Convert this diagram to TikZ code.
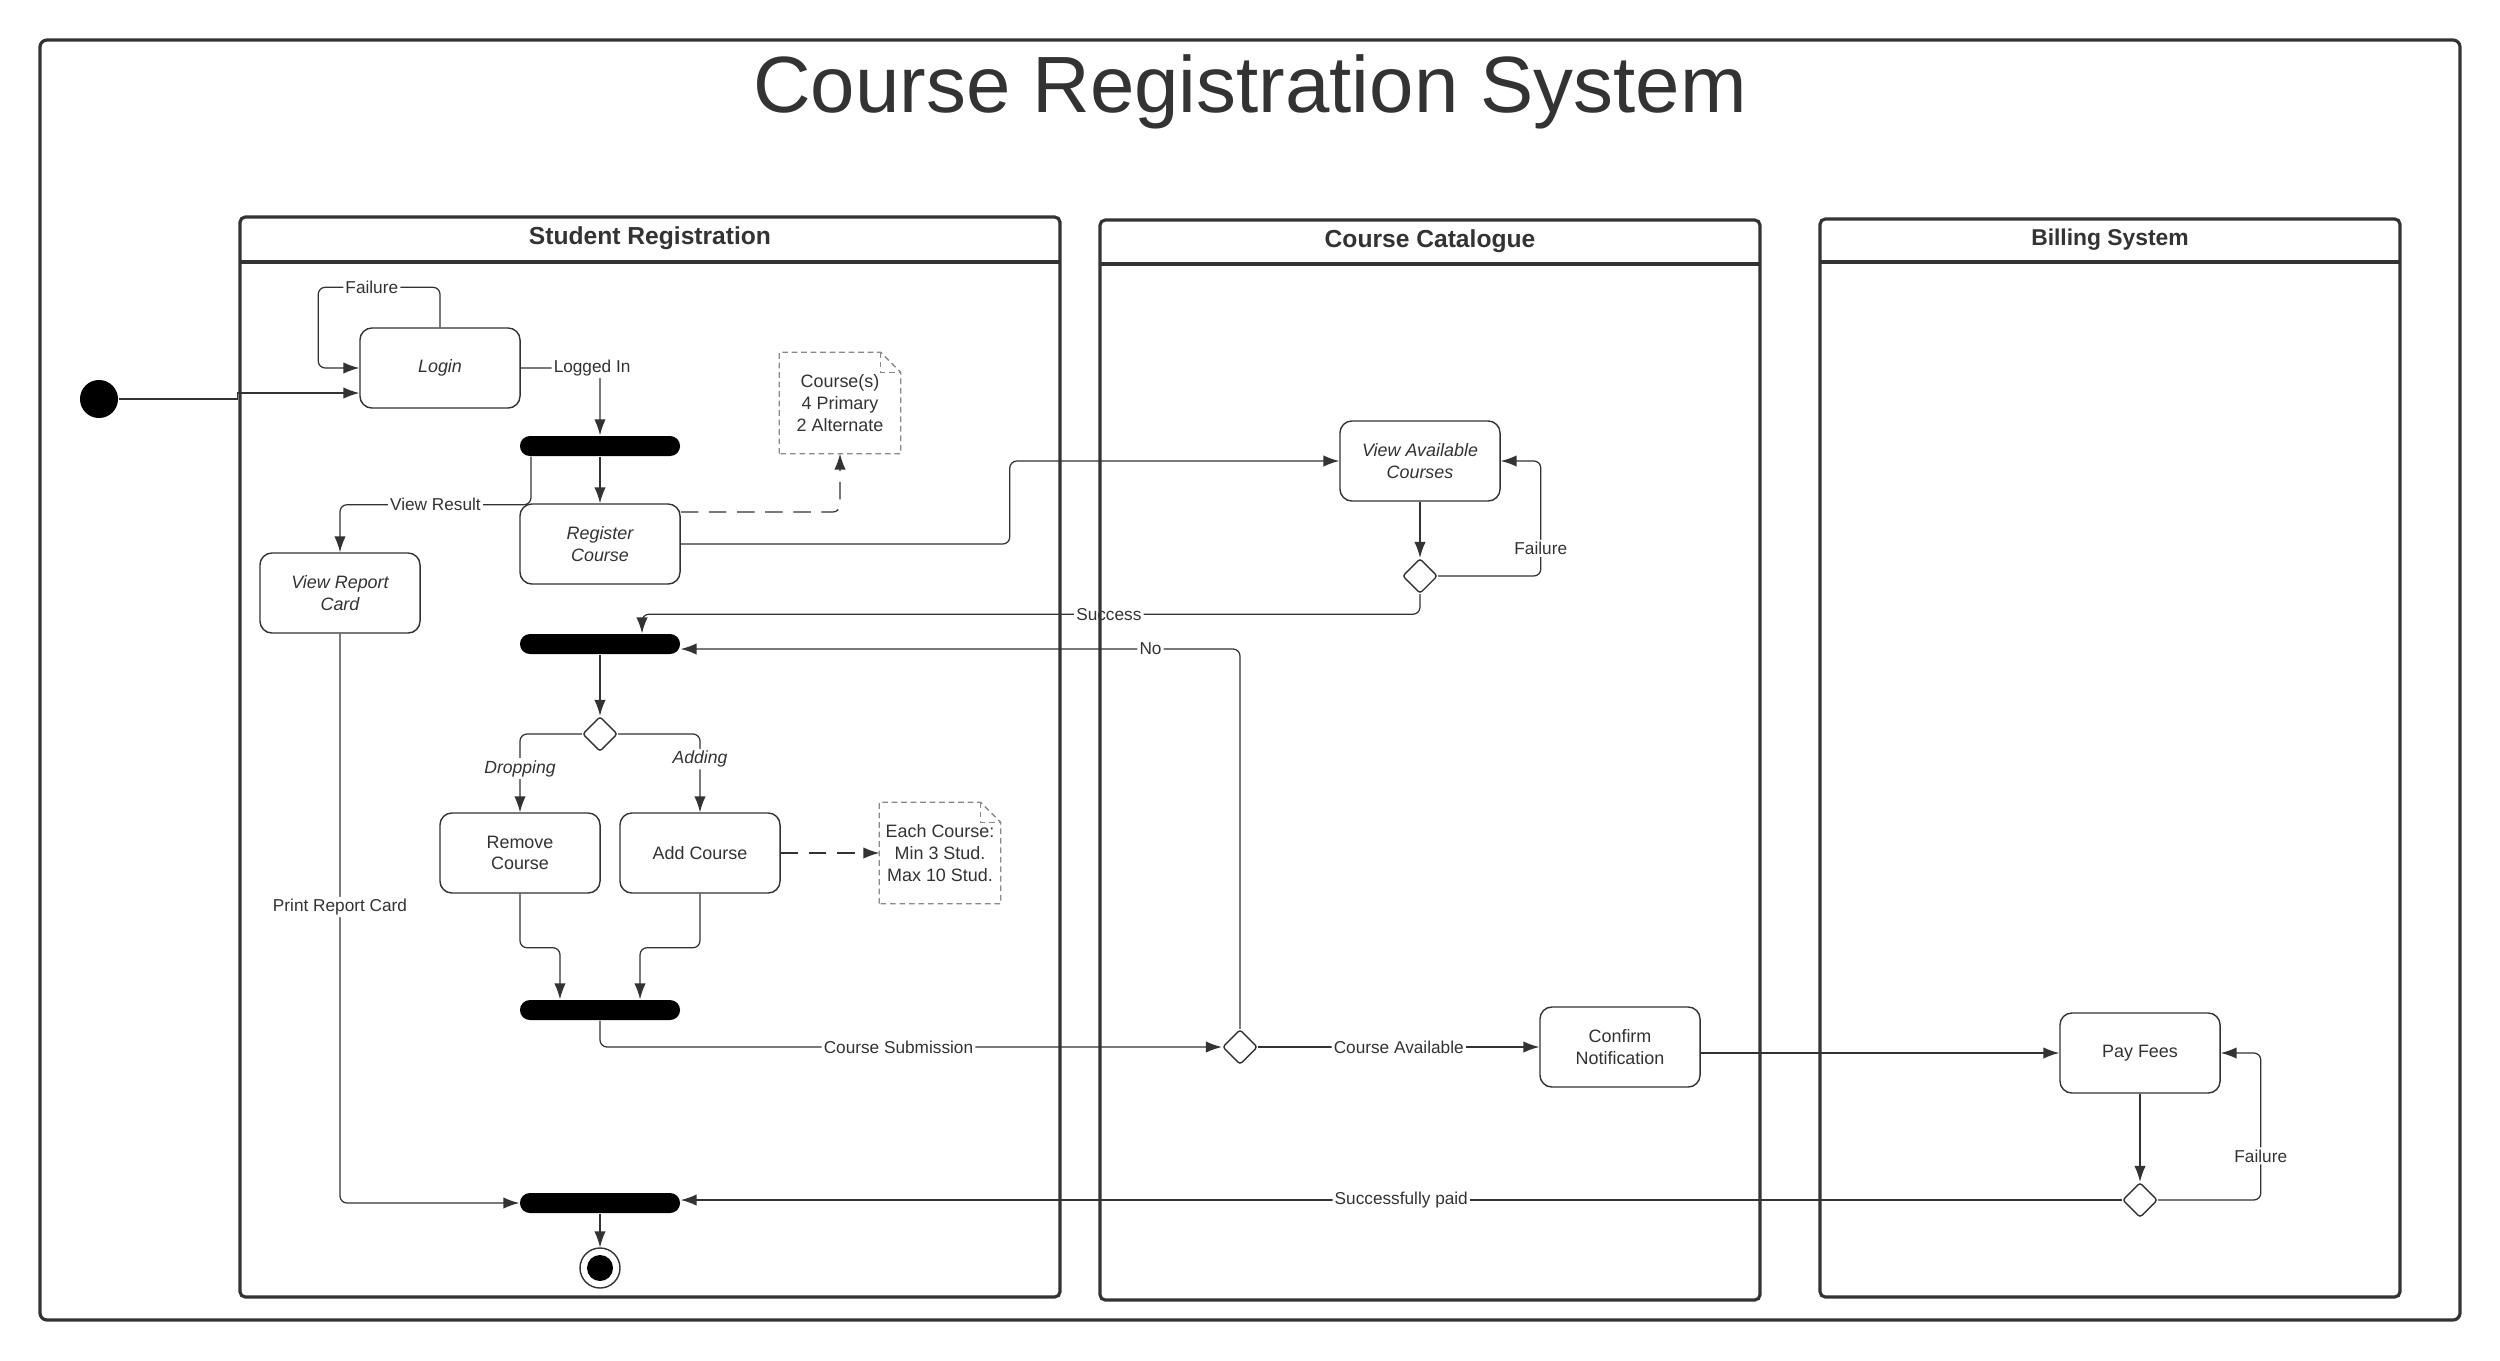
\documentclass[tikz,border=0pt]{standalone}
\usepackage{fontspec}
\setmainfont{Liberation Sans}
\usepackage{tikz}
\usetikzlibrary{shapes.geometric, arrows.meta}
\definecolor{scuro}{HTML}{333333}
\definecolor{grigio}{HTML}{8A8A8A}

\begin{document}
\begin{tikzpicture}[x=0.01cm, y=-0.01cm,
    every node/.style={text=scuro},
    azione/.style={draw=scuro, line width=0.4pt, rounded corners=3.4pt, minimum width=1.6cm, minimum height=0.8cm, align=center, inner sep=1pt, font=\fontsize{5.1}{6.1}\selectfont},
    corsivo/.style={font=\fontsize{5.1}{6.1}\selectfont\itshape},
    barra/.style={fill=black, rounded corners=0.1cm, minimum width=1.6cm, minimum height=0.2cm, inner sep=0pt},
    scelta/.style={diamond, draw=scuro, line width=0.4pt, minimum width=0.35cm, minimum height=0.35cm, inner sep=0pt, rounded corners=0.8pt},
    nota/.style={minimum width=1.2cm, minimum height=1cm, align=center, inner sep=0pt, font=\fontsize{5.1}{6.3}\selectfont},
    bordonota/.style={draw=grigio, line width=0.4pt, dash pattern=on 1.6pt off 1.1pt},
    freccia/.style={draw=scuro, line width=0.35pt, rounded corners=2pt, -{Latex[length=4.5pt,width=3.2pt]}},
    tratteggio/.style={freccia, dash pattern=on 5pt off 3pt},
    etichetta/.style={fill=white, inner sep=0.6pt, font=\fontsize{4.9}{6}\selectfont},
    etichettacorsiva/.style={etichetta, font=\fontsize{5}{6}\selectfont\itshape},
    corsia/.style={draw=scuro, line width=0.9pt, rounded corners=1.5pt},
    titolocorsia/.style={anchor=base, font=\bfseries\fontsize{7}{8}\selectfont}]
    % Parametri
    \pgfmathsetmacro{\colonna}{600}
    \pgfmathsetmacro{\testata}{262}

    % Sfondo
    \fill[white] (0,0) rectangle (2500,1360);
    \useasboundingbox (0,0) rectangle (2500,1360);

    % Titolo
    \node[anchor=base, font=\fontsize{22.7}{27}\selectfont] (titolo) at (1250,112) {Course Registration System};

    % Student Registration
    \node[circle, fill=black, minimum size=0.38cm, inner sep=0pt] (inizio) at (99,399) {};
    \node[azione, corsivo] (login) at (440,368) {Login};
    \node[barra] (barra1) at (\colonna,446) {};
    \node[azione, corsivo] (registra) at (\colonna,544) {Register\\Course};
    \node[azione, corsivo] (pagella) at (340,593) {View Report\\Card};
    \node[nota] (nota1) at (840,403) {Course(s)\\4 Primary\\2 Alternate};
    \node[barra] (barra2) at (\colonna,644) {};
    \node[scelta] (scelta3) at (\colonna,734) {};
    \node[azione] (rimuovi) at (520,853) {Remove\\Course};
    \node[azione] (aggiungi) at (700,853) {Add Course};
    \node[nota] (nota2) at (940,853) {Each Course:\\Min 3 Stud.\\Max 10 Stud.};
    \node[barra] (barra3) at (\colonna,1010) {};
    \node[barra] (barra4) at (\colonna,1203) {};
    \node[circle, draw=scuro, line width=0.4pt, minimum size=0.4cm, inner sep=0pt] (fine) at (\colonna,1268) {};
    \fill[black] (fine.center) circle (0.13cm);

    % Course Catalogue
    \node[azione, corsivo] (corsi) at (1420,461) {View Available\\Courses};
    \node[scelta] (scelta1) at (1420,576) {};
    \node[scelta] (scelta2) at (1240,1047) {};
    \node[azione] (conferma) at (1620,1047) {Confirm\\Notification};

    % Billing System
    \node[azione] (paga) at (2140,1053) {Pay Fees};
    \node[scelta] (scelta4) at (2140,1200) {};

    % Note
    \foreach \n in {nota1, nota2} {
        \draw[bordonota] (\n.south west) -- (\n.north west) -- ([xshift=-0.2cm]\n.north east) -- ([yshift=-0.2cm]\n.north east) -- (\n.south east) -- cycle;
        \draw[bordonota] ([xshift=-0.2cm]\n.north east) |- ([yshift=-0.2cm]\n.north east);
    }

    % Frecce
    \draw[freccia, rounded corners=0pt] (inizio.east) -- ++(119,0) |- ([yshift=-0.25cm]login.west);
    \draw[freccia] (login.north) -- ++(0,-40) -| node[etichetta, pos=0.28] {Failure} ([xshift=-0.41cm]login.west) -- (login.west);
    \draw[freccia] (login.east) -| node[etichetta, pos=0.45] {Logged In} (barra1.north);
    \draw[freccia] (barra1) -- (registra);
    \draw[freccia] ([xshift=-0.69cm]barra1.south) -- ++(0,48) -| node[etichetta, pos=0.25] {View Result} (pagella.north);
    \draw[tratteggio] ([yshift=0.32cm]registra.east) -| (nota1.south);
    \draw[freccia] (registra.east) -- ++(329,0) |- (corsi.west);
    \draw[freccia] (corsi) -- (scelta1);
    \draw[freccia] (scelta1.east) -| node[etichetta, pos=0.62] {Failure} ([xshift=0.4cm]corsi.east) -- (corsi.east);
    \draw[freccia] (scelta1.south) -- ++(0,20) -| node[etichetta, pos=0.2] {Success} ([xshift=0.42cm]barra2.north);
    \draw[freccia] (scelta2.north) |- node[etichetta, pos=0.58] {No} ([yshift=-0.05cm]barra2.east);
    \draw[freccia] (barra2) -- (scelta3);
    \draw[freccia] (scelta3.west) -| node[etichettacorsiva, pos=0.72] {Dropping} (rimuovi.north);
    \draw[freccia] (scelta3.east) -| node[etichettacorsiva, pos=0.66] {Adding} (aggiungi.north);
    \draw[tratteggio] (aggiungi) -- (nota2);
    \draw[freccia] (rimuovi.south) -- ++(0,54) -| ([xshift=-0.4cm]barra3.north);
    \draw[freccia] (aggiungi.south) -- ++(0,54) -| ([xshift=0.4cm]barra3.north);
    \draw[freccia] (barra3.south) |- node[etichetta, pos=0.74] {Course Submission} (scelta2.west);
    \draw[freccia] (scelta2) -- node[etichetta] {Course Available} (conferma);
    \draw[freccia] (conferma.east |- paga.west) -- (paga.west);
    \draw[freccia] (paga) -- (scelta4);
    \draw[freccia] (scelta4.east) -| node[etichetta, pos=0.65] {Failure} ([xshift=0.4cm]paga.east) -- (paga.east);
    \draw[freccia] (scelta4.west) -- node[etichetta] {Successfully paid} (scelta4.west -| barra4.east);
    \draw[freccia] (pagella.south) |- node[etichetta, pos=0.24] {Print Report Card} (barra4.west);
    \draw[freccia] (barra4) -- (fine);

    % Corsie
    \draw[corsia] (240,217) rectangle (1060,1297);
    \draw[corsia] (240,\testata) -- (1060,\testata);
    \node[titolocorsia] (corsia1) at (650,244) {Student Registration};
    \draw[corsia] (1100,220) rectangle (1760,1300);
    \draw[corsia] (1100,264) -- (1760,264);
    \node[titolocorsia] (corsia2) at (1430,247) {Course Catalogue};
    \draw[corsia] (1820,219) rectangle (2400,1297);
    \draw[corsia] (1820,\testata) -- (2400,\testata);
    \node[titolocorsia, font=\bfseries\fontsize{6.5}{8}\selectfont] (corsia3) at (2110,245) {Billing System};

    % Cornice
    \draw[corsia, rounded corners=2pt] (40,40) rectangle (2460,1320);
\end{tikzpicture}
\end{document}
